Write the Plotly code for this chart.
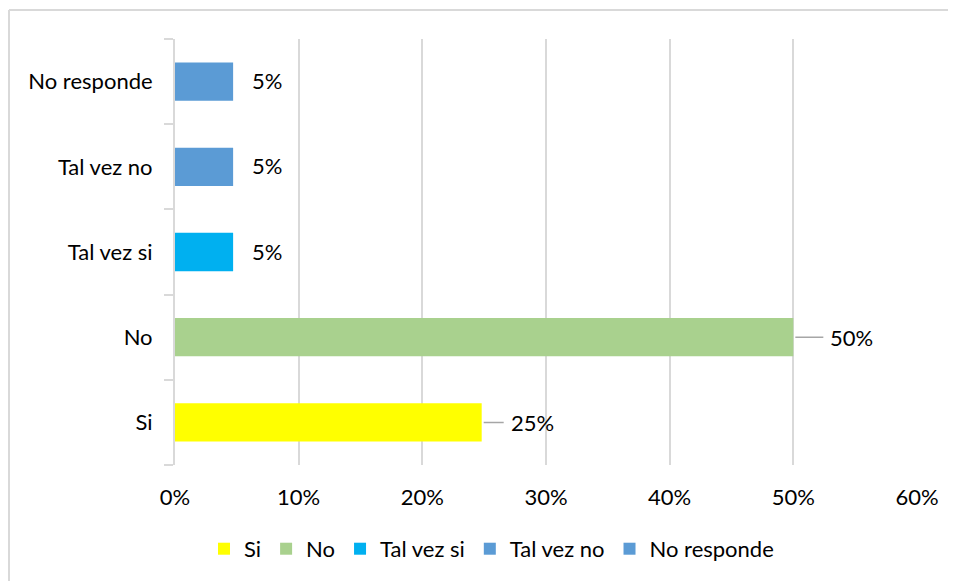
import plotly.graph_objects as go

categories = ["Si", "No", "Tal vez si", "Tal vez no", "No responde"]
values = [24.8, 50, 4.7, 4.7, 4.7]
labels = ["25%", "50%", "5%", "5%", "5%"]
colors = ["#FFFF00", "#A9D18E", "#00B0F0", "#5B9BD5", "#5B9BD5"]
x_ticks = [0, 10, 20, 30, 40, 50, 60]
x_tick_text = ["0%", "10%", "20%", "30%", "40%", "50%", "60%"]

FONT = "Lato"
FS = 22
fig = go.Figure()
for c, v, col in zip(categories, values, colors):
    fig.add_trace(go.Bar(
        x=[v], y=[c], name=c, orientation="h",
        marker=dict(color=col, line=dict(width=0)),
        width=0.45, hoverinfo="skip",
    ))

leader_ax = {"Si": 22, "No": 30}
annotations = []
for c, v, t in zip(categories, values, labels):
    if c in leader_ax:
        annotations.append(dict(
            x=v, y=c, xref="x", yref="y", text=t, showarrow=True,
            ax=leader_ax[c], ay=0, arrowhead=0, arrowwidth=1.5, arrowcolor="#A6A6A6",
            standoff=2, startstandoff=0, xanchor="left", yanchor="middle",
            borderpad=6,
            font=dict(family=FONT, size=FS, color="#000000"),
        ))
    else:
        annotations.append(dict(
            x=v, y=c, xref="x", yref="y", text=t, showarrow=False,
            xanchor="left", yanchor="middle", xshift=17, yshift=1,
            font=dict(family=FONT, size=FS, color="#000000"),
        ))

# page body adds an 8px offset; figure coords are shifted accordingly
fig.update_layout(
    width=948, height=573,
    margin=dict(l=167, r=39, t=31, b=116, autoexpand=False),
    paper_bgcolor="white", plot_bgcolor="white",
    barmode="overlay",
    showlegend=True,
    legend=dict(orientation="h", xref="container", x=0.51, xanchor="center",
                yref="container", y=0.056, yanchor="middle",
                font=dict(family=FONT, size=FS, color="#000000"),
                itemwidth=30, traceorder="normal"),
    annotations=annotations,
    xaxis=dict(range=[0, 60], tickvals=x_ticks, ticktext=x_tick_text,
               showgrid=True, gridcolor="#D9D9D9", gridwidth=1.5,
               zeroline=False, showline=False,
               ticks="outside", ticklen=13, tickcolor="rgba(0,0,0,0)",
               tickfont=dict(family=FONT, size=FS, color="#000000"),
               fixedrange=True),
    yaxis=dict(categoryorder="array", categoryarray=categories,
               showline=True, linecolor="#D9D9D9", linewidth=2,
               ticks="outside", tickson="boundaries", ticklen=9,
               tickcolor="#D9D9D9", tickwidth=2,
               ticklabelstandoff=16,
               showgrid=False, zeroline=False,
               tickfont=dict(family=FONT, size=FS, color="#000000"),
               fixedrange=True),
    font=dict(family=FONT),
    shapes=[
        dict(type="line", xref="paper", yref="paper",
             x0=(1 - 167) / 742, x1=(960 - 167) / 742,
             y0=1 + (31 - 2) / 426, y1=1 + (31 - 2) / 426,
             line=dict(color="#D9D9D9", width=2), layer="below"),
        dict(type="line", xref="paper", yref="paper",
             x0=(1 - 167) / 742, x1=(1 - 167) / 742,
             y0=-(600 - 457) / 426, y1=1 + (31 - 2) / 426,
             line=dict(color="#D9D9D9", width=2), layer="below"),
    ],
)

fig.write_html("out.html")
